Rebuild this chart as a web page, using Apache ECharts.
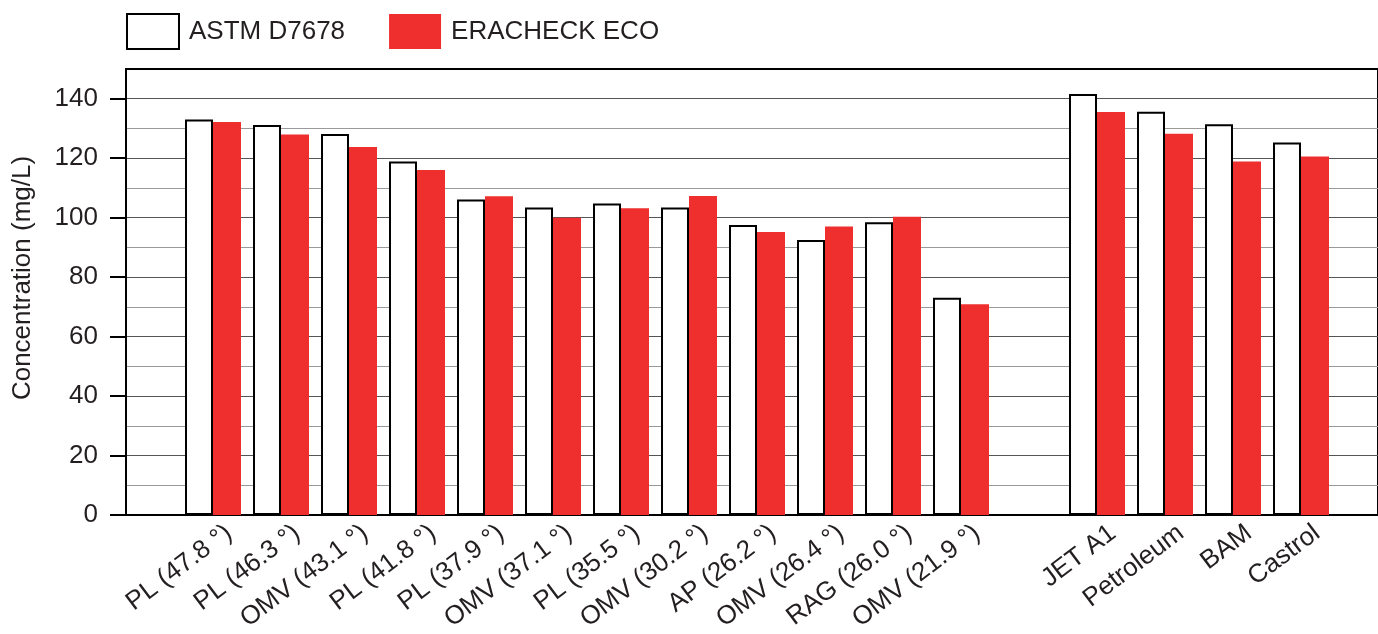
<!DOCTYPE html>
<html>
<head>
<meta charset="utf-8">
<script src="https://cdn.jsdelivr.net/npm/echarts@6/dist/echarts.min.js"></script>
<style>
html,body{margin:0;padding:0;background:#fff;}
#chart{width:1378px;height:634px;}
</style>
</head>
<body>
<div id="chart"></div>
<script>
const categories = ['PL (47.8 °)', 'PL (46.3 °)', 'OMV (43.1 °)', 'PL (41.8 °)', 'PL (37.9 °)', 'OMV (37.1 °)', 'PL (35.5 °)', 'OMV (30.2 °)', 'AP (26.2 °)', 'OMV (26.4 °)', 'RAG (26.0 °)', 'OMV (21.9 °)', '', 'JET A1', 'Petroleum', 'BAM', 'Castrol'];
const astmValues = [133.0, 131.2, 128.1, 118.9, 106.1, 103.4, 104.8, 103.4, 97.5, 92.5, 98.5, 73.1, null, 141.6, 135.6, 131.4, 125.3];
const eracheckValues = [132.2, 128.0, 123.8, 116.0, 107.2, 100.0, 103.2, 107.3, 95.2, 97.0, 100.3, 70.9, null, 135.5, 128.2, 118.9, 120.6];
const seriesNames = ['ASTM D7678', 'ERACHECK ECO'];
const yTicks = [0, 20, 40, 60, 80, 100, 120, 140];
const yMin = 0, yMax = 150, yInterval = 20;

const FONT = "'Liberation Sans', Arial, sans-serif";
const TXT = '#231f20';
const RED = '#ee2f2e';

const chart = echarts.init(document.getElementById('chart'), null, {renderer: 'canvas'});
chart.setOption({
  animation: false,
  backgroundColor: '#fff',
  textStyle: {fontFamily: FONT},
  legend: {
    left: 126, top: 13, padding: 0,
    itemWidth: 52, itemHeight: 35, itemGap: 44,
    icon: 'rect',
    textStyle: {fontSize: 26, color: TXT, fontFamily: FONT, padding: [0, 0, 0, 5]},
    data: [
      {name: seriesNames[0], itemStyle: {color: '#fff', borderColor: '#000', borderWidth: 2}},
      {name: seriesNames[1], itemStyle: {color: RED, borderWidth: 0}}
    ]
  },
  grid: [
    {left: 126, right: -3, top: 69, bottom: 119, show: true, borderColor: '#000', borderWidth: 2, backgroundColor: 'transparent'},
    {left: 179, right: 43, top: 69, bottom: 119},
    {left: 195, right: 27, top: 69, bottom: 119}
  ],
  xAxis: [
    {gridIndex: 0, type: 'value', min: 0, max: 1, axisLabel: {show: false}, axisTick: {show: false}, splitLine: {show: false},
     axisLine: {show: true, lineStyle: {color: '#000', width: 2}}},
    {gridIndex: 1, type: 'category', data: categories,
     axisLine: {show: false}, axisTick: {show: false}, axisLabel: {show: false}},
    {gridIndex: 2, type: 'category', data: categories,
     axisLine: {show: false}, axisTick: {show: false},
     axisLabel: {interval: 0, rotate: 37, fontSize: 26, color: TXT, fontFamily: FONT, margin: 25}}
  ],
  yAxis: [
    {gridIndex: 0, type: 'value', min: yMin, max: yMax, interval: yInterval,
     name: 'Concentration (mg/L)', nameLocation: 'middle', nameGap: 90,
     nameTextStyle: {fontSize: 26, color: TXT, fontFamily: FONT, padding: [0, 0, 0, 28]},
     axisLine: {show: true, lineStyle: {color: '#000', width: 2}},
     axisTick: {show: true, inside: false, length: 16, customValues: yTicks, lineStyle: {color: '#000', width: 2}},
     axisLabel: {fontSize: 26, color: TXT, fontFamily: FONT, margin: 28, customValues: yTicks},
     splitLine: {show: true, lineStyle: {color: '#555', width: 1}},
     minorTick: {show: false, splitNumber: 2},
     minorSplitLine: {show: true, lineStyle: {color: '#9a9a9a', width: 1}}},
    {gridIndex: 1, type: 'value', min: yMin, max: yMax, show: false, splitLine: {show: false}},
    {gridIndex: 2, type: 'value', min: yMin, max: yMax, show: false, splitLine: {show: false}}
  ],
  series: [
    {name: seriesNames[0], type: 'bar', xAxisIndex: 1, yAxisIndex: 1, data: astmValues,
     barWidth: 28, barGap: '0%',
     itemStyle: {color: '#fff', borderColor: '#000', borderWidth: 2}},
    {name: seriesNames[1], type: 'bar', xAxisIndex: 1, yAxisIndex: 1, data: eracheckValues,
     barWidth: 28, barGap: '0%',
     itemStyle: {color: RED}}
  ]
});
</script>
</body>
</html>
